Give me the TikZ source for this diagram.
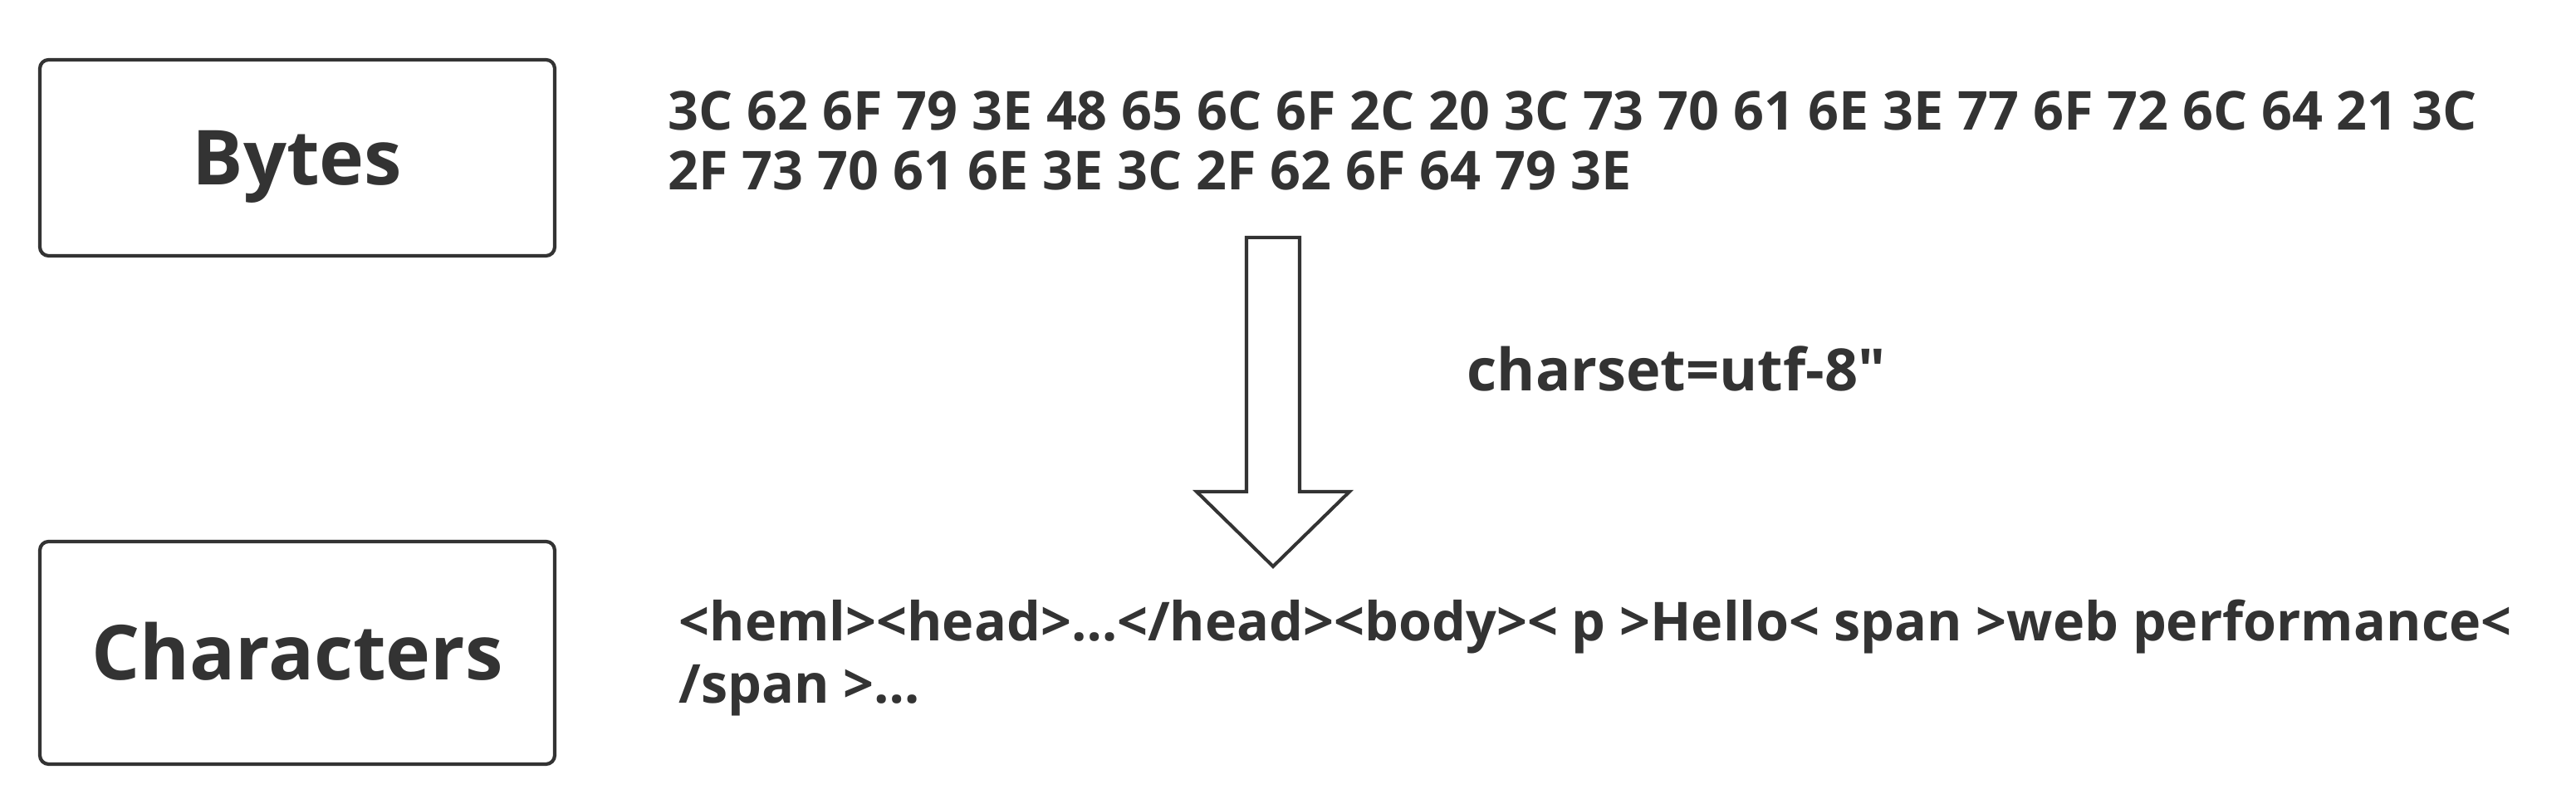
\documentclass[tikz,border=0pt]{standalone}
\usepackage{fontspec}
\setmainfont{Open Sans}
\usetikzlibrary{positioning}

\definecolor{ink}{HTML}{333333}

\begin{document}
\begin{tikzpicture}[
  box/.style={draw=ink, line width=1.2pt, rounded corners=3pt, minimum width=6.20cm,
    inner sep=0pt, text height=18.6pt, text depth=0pt, text=ink,
    font=\bfseries\fontsize{26}{31}\selectfont},
  data/.style={text=ink, align=left, anchor=base west, inner sep=0pt,
    font=\bfseries\fontsize{18.4}{20.7}\selectfont}]
\useasboundingbox (0,0) rectangle (31.02,9.74);

%% boxes
\node[box, minimum height=2.36cm](bytes) at (3.58,7.84){Bytes};
\node[box, minimum height=2.68cm](chars) at (3.58,1.88){Characters};

%% data on the right
\node[data](hex) at (8.04,7.45){3C 62 6F 79 3E 48 65 6C 6F 2C 20 3C 73 70 61 6E 3E 77 6F 72 6C 64 21 3C\\
2F 73 70 61 6E 3E 3C 2F 62 6F 64 79 3E};
\node[data, font=\bfseries\fontsize{18.4}{21.5}\selectfont](html) at (8.17,1.27){<heml><head>…</head><body>< p >Hello< span >web performance<\\
/span >…};

%% decoding arrow
\coordinate (arrow_top) at (15.33,6.88);
\coordinate (arrow_tip) at (15.33,2.92);
\draw[ink, line width=1.15pt, line join=miter] (arrow_top) ++(-0.32,0) -- ++(0,-3.06) -- ++(-0.60,0)
  -- (arrow_tip) -- ++(0.92,0.90) -- ++(-0.60,0) -- ++(0,3.06) -- cycle;
\node[data, font=\bfseries\fontsize{20}{24}\selectfont](charset) at (17.66,5.03){charset=utf-8\textquotedbl};

\end{tikzpicture}
\end{document}
